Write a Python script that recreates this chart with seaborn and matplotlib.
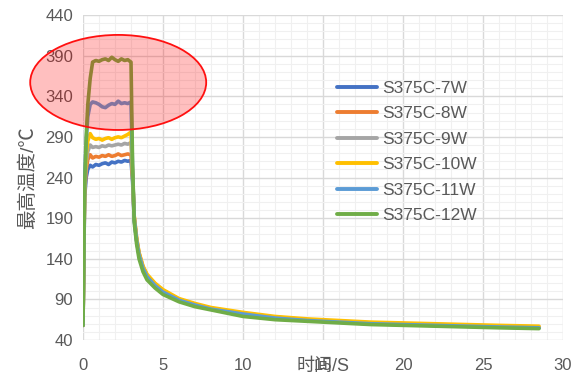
import matplotlib
matplotlib.use("Agg")
import matplotlib.pyplot as plt
from matplotlib.patches import Ellipse
from matplotlib.ticker import MultipleLocator
import seaborn as sns
import pandas as pd

# ---- data ----
time_s = [0.0, 0.1, 0.2, 0.3, 0.45, 0.6, 0.8, 1.0, 1.2, 1.4, 1.6, 1.8, 2.0, 2.2, 2.4, 2.6, 2.8, 3.0,
          3.1, 3.2, 3.35, 3.5, 3.75, 4.0, 4.5, 5.0, 6.0, 7.0, 8.0, 9.0, 10.0, 12.0, 14.0, 16.0,
          18.0, 20.0, 22.0, 24.0, 26.0, 28.5]

w7 = [58, 215, 240, 250, 255, 253, 256, 255, 257, 258, 256, 259, 258, 260, 259, 261, 260, 261,
      235, 188, 162, 145, 128, 118, 107, 99, 89, 83, 78, 75, 72, 67, 64, 62, 60, 59, 58, 57, 56, 55]
w8 = [58, 220, 250, 262, 268, 264, 266, 265, 267, 266, 268, 266, 267, 269, 267, 268, 269, 268,
      240, 192, 165, 147, 130, 120, 109, 101, 90, 84, 79, 76, 73, 68, 65, 63, 61, 60, 59, 58, 57, 56]
w9 = [58, 225, 258, 272, 280, 277, 278, 277, 279, 278, 280, 279, 280, 281, 280, 282, 281, 283,
      242, 190, 163, 146, 129, 119, 108, 100, 90, 84, 79, 76, 72, 68, 65, 62, 60, 59, 58, 57, 56, 55]
w10 = [58, 230, 268, 285, 294, 289, 287, 288, 286, 288, 289, 287, 289, 290, 289, 291, 293, 296,
       245, 193, 166, 148, 131, 121, 110, 102, 91, 85, 80, 77, 74, 69, 66, 64, 62, 61, 60, 59, 58, 57]
w11 = [58, 240, 285, 315, 330, 333, 332, 330, 327, 326, 329, 331, 330, 334, 331, 332, 331, 333,
       250, 190, 163, 145, 128, 118, 107, 99, 89, 83, 78, 75, 72, 67, 64, 62, 60, 59, 58, 57, 56, 55]
w12 = [58, 230, 290, 330, 362, 382, 384, 383, 385, 386, 384, 388, 385, 383, 386, 384, 385, 382,
       255, 185, 158, 140, 124, 114, 104, 96, 87, 81, 77, 73, 69, 65, 63, 61, 59, 58, 57, 56, 55, 54]

labels = ["S375C-7W", "S375C-8W", "S375C-9W", "S375C-10W", "S375C-11W", "S375C-12W"]
series = [w7, w8, w9, w10, w11, w12]
colors = ["#4472C4", "#ED7D31", "#A5A5A5", "#FFC000", "#5B9BD5", "#70AD47"]

x_ticks = [0, 5, 10, 15, 20, 25, 30]
y_ticks = [40, 90, 140, 190, 240, 290, 340, 390, 440]

rows = []
for lab, vals in zip(labels, series):
    for t, v in zip(time_s, vals):
        rows.append({"time": t, "temp": v, "series": lab})
df = pd.DataFrame(rows)

sns.set_theme(style="white")
plt.rcParams["font.family"] = ["Liberation Sans", "Noto Sans CJK SC", "DejaVu Sans"]

fig = plt.figure(figsize=(5.78, 3.81), dpi=100)
ax = fig.add_axes([83 / 578, 1 - 340 / 381, 480 / 578, 325 / 381])

sns.lineplot(data=df, x="time", y="temp", hue="series", hue_order=labels,
             palette=colors, linewidth=2.6, ax=ax, legend=True)

ax.set_xlim(0, 30)
ax.set_ylim(40, 440)
ax.set_xticks(x_ticks)
ax.set_yticks(y_ticks)
ax.xaxis.set_minor_locator(MultipleLocator(1))
ax.yaxis.set_minor_locator(MultipleLocator(10))
ax.grid(True, which="major", color="#D9D9D9", linewidth=1.0)
ax.grid(True, which="minor", color="#F0F0F0", linewidth=0.8)
ax.set_axisbelow(True)
for s in ax.spines.values():
    s.set_visible(False)
ax.tick_params(axis="both", which="major", length=4, color="#D9D9D9",
               labelcolor="#595959", labelsize=12)
ax.tick_params(axis="x", which="major", pad=9)
ax.tick_params(axis="y", which="major", pad=3)
ax.tick_params(axis="both", which="minor", length=0)

ax.set_xlabel("时间/S", color="#595959", fontsize=13, labelpad=-10.5)
ax.set_ylabel("最高温度/℃", color="#595959", fontsize=14, labelpad=6)

ell = Ellipse((2.2, 357), width=11.0, height=117, transform=ax.transData,
              facecolor=(1, 0, 0, 0.25), edgecolor="#FF1010", linewidth=1.3,
              clip_on=False, zorder=5)
ax.add_patch(ell)

leg = ax.legend(loc="upper left", bbox_to_anchor=(0.515, 0.82), frameon=False,
                fontsize=12.5, handlelength=2.3, handletextpad=0.3, labelspacing=0.6,
                borderaxespad=0)
for txt in leg.get_texts():
    txt.set_color("#595959")
for line in leg.get_lines():
    line.set_linewidth(2.8)

fig.savefig("out.png", dpi=100)
